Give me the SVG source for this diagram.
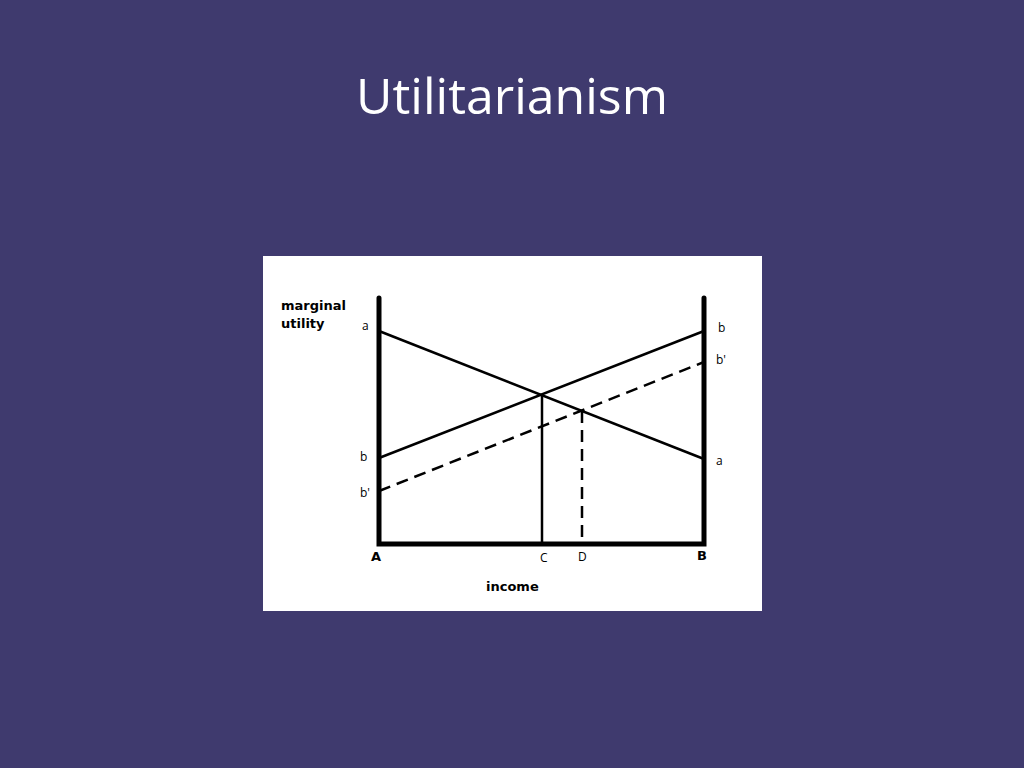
<svg xmlns="http://www.w3.org/2000/svg" width="1024" height="768" viewBox="0 0 1024 768">
<style>
.t{font-family:"Open Sans","DejaVu Sans",sans-serif;font-size:12px;fill:#000}
.b{font-family:"DejaVu Sans",sans-serif;font-size:13px;font-weight:bold;fill:#000}
.l{stroke:#000;stroke-width:2.5;fill:none}
.ax{stroke:#000;stroke-width:5;fill:none;stroke-linecap:round}
.d{stroke-dasharray:12,7}
</style>
<rect width="1024" height="768" fill="#3f3a6e"/>
<text x="512" y="114" text-anchor="middle" font-family="Open Sans, DejaVu Sans, sans-serif" font-size="50" fill="#fff">Utilitarianism</text>
<rect x="263" y="256" width="499" height="355" fill="#fff"/>
<g id="axes">
<path class="ax" d="M379,298 V544 H704 V298"/>
</g>
<g id="connectors">
<line class="l" x1="379" y1="331" x2="704" y2="459"/>
<line class="l" x1="379" y1="458" x2="704" y2="331"/>
<line class="l d" x1="379" y1="491" x2="704" y2="362"/>
<line class="l" x1="542" y1="395" x2="542" y2="543"/>
<line class="l d" x1="582" y1="411" x2="582" y2="543"/>
</g>
<g id="labels">
<text class="b" x="281" y="310">marginal</text>
<text class="b" x="281" y="328">utility</text>
<text class="t" x="362" y="330">a</text>
<text class="t" x="360" y="461">b</text>
<text class="t" x="360" y="497">b'</text>
<text class="t" x="718" y="332">b</text>
<text class="t" x="716" y="364">b'</text>
<text class="t" x="716" y="465">a</text>
<text class="b" x="371" y="561">A</text>
<text class="t" x="540" y="562">C</text>
<text class="t" x="578" y="561">D</text>
<text class="b" x="697" y="560">B</text>
<text class="b" x="486" y="591">income</text>
</g>
</svg>
